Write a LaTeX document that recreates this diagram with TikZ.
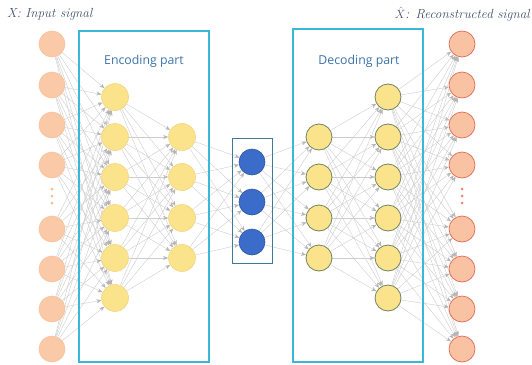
\documentclass[tikz,border=0pt]{standalone}
\usepackage{fontspec}
\newfontfamily\titlefont{Open Sans}
\usetikzlibrary{arrows.meta,backgrounds}
\definecolor{inpfill}{HTML}{F9C9A8}
\definecolor{inpdraw}{HTML}{F6C299}
\definecolor{outfill}{HTML}{F9C3A3}
\definecolor{outdraw}{HTML}{E26A55}
\definecolor{encfill}{HTML}{FBE38C}
\definecolor{encdraw}{HTML}{F2D682}
\definecolor{decdraw}{HTML}{6E8460}
\definecolor{latfill}{HTML}{3B6CC9}
\definecolor{latdraw}{HTML}{2C55A2}
\definecolor{boxc}{HTML}{3BB8D6}
\definecolor{latbox}{HTML}{3E7A96}
\definecolor{edgec}{HTML}{CDCDCD}
\definecolor{tipc}{HTML}{B4B4B4}
\definecolor{labc}{HTML}{45516C}
\definecolor{titc}{HTML}{3C72A8}
\begin{document}
\begin{tikzpicture}[x=1pt,y=-1pt,
  inp/.style={circle,minimum size=26pt,inner sep=0pt,fill=inpfill,draw=inpdraw,line width=0.6pt},
  outp/.style={circle,minimum size=26pt,inner sep=0pt,fill=outfill,draw=outdraw,line width=0.7pt},
  enc/.style={circle,minimum size=27pt,inner sep=0pt,fill=encfill,draw=encdraw,line width=0.6pt},
  dec/.style={circle,minimum size=26pt,inner sep=0pt,fill=encfill,draw=decdraw,line width=0.8pt},
  lat/.style={circle,minimum size=26pt,inner sep=0pt,fill=latfill,draw=latdraw,line width=0.6pt},
  conn/.style={draw=edgec,line width=0.4pt,-{Stealth[length=5pt,width=4pt,color=tipc]}},
  partbox/.style={draw=boxc,line width=1.8pt},
  latentbox/.style={draw=latbox,line width=0.8pt},
  dotsty/.style={circle,inner sep=0pt,minimum size=3pt},
  title/.style={font=\titlefont\fontsize{12.3}{14}\selectfont,text=titc},
  siglab/.style={font=\itshape\fontsize{13.2}{15}\selectfont,text=labc,inner sep=0pt}
]
\useasboundingbox (0,0) rectangle (532,364);
% input layer
\foreach \y [count=\i] in {44,85,125,165,229,269,309,349}
  \node[inp] (i\i) at (52,\y) {};
\foreach \y [count=\i] in {189,196,203}
  \node[dotsty,fill=inpdraw!90!orange] (id\i) at (52,\y) {};
% encoder layer 1
\foreach \y [count=\i] in {97,137,177,218,258,298}
  \node[enc] (a\i) at (115,\y) {};
% encoder layer 2
\foreach \y [count=\i] in {137,177,218,258}
  \node[enc] (b\i) at (182,\y) {};
% latent
\foreach \y [count=\i] in {162,202,242}
  \node[lat] (z\i) at (252,\y) {};
% decoder layer 1
\foreach \y [count=\i] in {137,177,218,258}
  \node[dec] (c\i) at (319,\y) {};
% decoder layer 2
\foreach \y [count=\i] in {97,137,177,218,258,298}
  \node[dec] (d\i) at (388,\y) {};
% output layer
\foreach \y [count=\i] in {44,85,125,165,229,269,309,349}
  \node[outp] (o\i) at (462,\y) {};
\foreach \y [count=\i] in {189,196,203}
  \node[dotsty,fill=outdraw!80!white] (od\i) at (462,\y) {};
% labels
\node[siglab,anchor=west] (lx) at (7,14) {X: Input signal};
\node[siglab,anchor=east] (lxh) at (530,14) {$\hat{X}$: Reconstructed signal};
\node[title] (te) at (144,61) {Encoding part};
\node[title] (td) at (359,61) {Decoding part};
% connections and boxes
\begin{scope}[on background layer]
  \foreach \s in {1,...,8} \foreach \t in {1,...,6} \draw[conn] (i\s) -- (a\t);
  \foreach \s in {1,...,6} \foreach \t in {1,...,4} \draw[conn] (a\s) -- (b\t);
  \foreach \s in {1,...,4} \foreach \t in {1,...,3} \draw[conn] (b\s) -- (z\t);
  \foreach \s in {1,...,3} \foreach \t in {1,...,4} \draw[conn] (z\s) -- (c\t);
  \foreach \s in {1,...,4} \foreach \t in {1,...,6} \draw[conn] (c\s) -- (d\t);
  \foreach \s in {1,...,6} \foreach \t in {1,...,8} \draw[conn] (d\s) -- (o\t);
  \draw[partbox] (79,31) rectangle (209,362);
  \draw[partbox] (293,29) rectangle (423,362);
  \draw[latentbox] (232,138) rectangle (272,263);
\end{scope}
\end{tikzpicture}
\end{document}
